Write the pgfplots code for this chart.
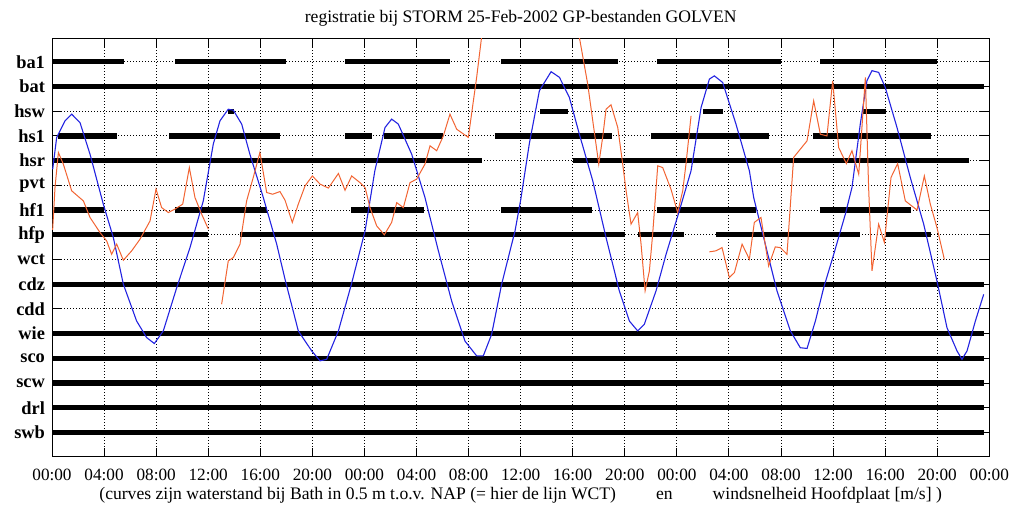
\documentclass[border=0pt]{standalone}
\usepackage{pgfplots}
\pgfplotsset{compat=1.18}
\usepackage{fontspec}
\setmainfont{Liberation Serif}
\definecolor{tideblue}{RGB}{35,35,225}
\definecolor{windorange}{RGB}{242,100,50}
\begin{document}
\begin{tikzpicture}
\useasboundingbox (-26pt,-28.65pt) rectangle (486pt,228.35pt);
\begin{axis}[
  at={(234.325pt,104.6pt)}, anchor=center,
  scale only axis, width=468.65pt, height=209.2pt,
  xmin=0, xmax=72, ymin=0.05, ymax=16.98, y dir=reverse,
  axis line style={line width=0.5pt},
  tick align=inside, xtick pos=both, ytick pos=both,
  major tick length=4.5pt,
  tick style={black, line width=0.5pt},
  xtick={0,4,...,72},
  xticklabels={00:00,04:00,08:00,12:00,16:00,20:00,00:00,04:00,08:00,12:00,16:00,20:00,00:00,04:00,08:00,12:00,16:00,20:00,00:00},
  ytick={1,...,16},
  yticklabels={ba1,bat,hsw,hs1,hsr,pvt,hf1,hfp,wct,cdz,cdd,wie,sco,scw,drl,swb},
  grid=major,
  major grid style={black, line width=0.5pt, dash pattern=on 0.5pt off 1pt},
  xticklabel style={font=\fontsize{8.6}{10}\selectfont, yshift=-2.5pt},
  yticklabel style={font=\fontsize{9.2}{10}\selectfont\bfseries},
  every axis title shift=0pt,
  title={registratie bij STORM 25-Feb-2002 GP-bestanden GOLVEN},
  title style={font=\fontsize{8.8}{10}\selectfont, at={(axis description cs:0.5,1)}, anchor=center, yshift=10.15pt},
  xlabel={(curves zijn waterstand bij Bath in 0.5 m t.o.v. NAP (= hier de lijn WCT)\hspace*{20pt}en\hspace*{20pt}windsnelheid Hoofdplaat [m/s] )},
  xlabel style={font=\fontsize{8.8}{10}\selectfont, at={(axis description cs:0.5,0)}, anchor=center, yshift=-19.4pt},
  unbounded coords=jump,
]
% bars
\pgfplotsset{bar/.style={black, line width=2.7pt, line cap=butt, forget plot}}
\addplot[bar] coordinates {(0,1) (5.5,1) (7,nan) (9.45,1) (18.0,1) (20,nan) (22.5,1) (30.6,1) (32,nan) (34.5,1) (43.5,1) (45,nan) (46.5,1) (56.0,1) (57,nan) (59.0,1) (68.0,1)};
\addplot[bar] coordinates {(0,2) (71.57,2)};
\addplot[bar] coordinates {(13.55,3) (13.98,3) (20,nan) (37.5,3) (39.6,3) (45,nan) (50.0,3) (51.55,3) (57,nan) (62.3,3) (64.05,3)};
\addplot[bar] coordinates {(0.45,4) (5.0,4) (7,nan) (9.0,4) (17.5,4) (20,nan) (22.5,4) (24.58,4) (25,nan) (25.5,4) (30.05,4) (32,nan) (34.0,4) (43.0,4) (45,nan) (46.0,4) (55.08,4) (57,nan) (58.45,4) (67.52,4)};
\addplot[bar] coordinates {(0.08,5) (33.05,5) (35,nan) (40.0,5) (70.47,5)};
\addplot[bar] coordinates {(0.12,7) (3.97,7) (7,nan) (9.45,7) (16.5,7) (20,nan) (22.98,7) (28.55,7) (32,nan) (34.5,7) (41.5,7) (45,nan) (46.5,7) (54.05,7) (57,nan) (58.98,7) (65.98,7)};
\addplot[bar] coordinates {(0.04,8) (12.02,8) (13,nan) (14.46,8) (44.03,8) (44.5,nan) (45.0,8) (48.55,8) (50,nan) (51.0,8) (62.03,8) (63,nan) (64.05,8) (67.5,8)};
\addplot[bar] coordinates {(0,10) (71.57,10)};
\addplot[bar] coordinates {(0,12) (71.57,12)};
\addplot[bar] coordinates {(0,13) (71.57,13)};
\addplot[bar] coordinates {(0,14) (71.57,14)};
\addplot[bar] coordinates {(0,15) (71.57,15)};
\addplot[bar] coordinates {(0,16) (71.57,16)};
% water level (row units)
\addplot[tideblue, line width=0.55pt] coordinates {
(0.05,5.35) (0.36,4.06) (1.0,3.39) (1.51,3.12) (2.15,3.46) (2.92,4.74) (3.94,6.76) (4.71,8.11) (5.48,10.0) (6.5,11.49) (7.27,12.16) (7.86,12.4) (8.55,11.89) (9.58,10.14) (10.6,8.52) (11.62,6.63) (12.39,4.33) (12.9,3.39) (13.54,2.92) (13.93,2.96) (14.57,3.52) (15.2,4.74) (16.23,6.49) (17.26,8.38) (17.9,9.8) (18.92,11.89) (19.95,12.7) (20.59,13.1) (21.1,13.04) (22.0,11.89) (23.0,10.0) (24.05,7.84) (24.8,5.41) (25.58,3.66) (26.09,3.32) (26.6,3.52) (27.63,4.74) (28.65,6.49) (29.68,8.65) (30.7,10.68) (31.72,12.3) (32.62,12.9) (33.13,12.9) (33.77,12.03) (34.54,10.0) (35.57,7.84) (36.0,6.6) (36.67,4.3) (37.44,2.17) (38.34,1.4) (38.98,1.63) (39.74,2.44) (40.51,3.93) (41.54,5.82) (42.56,8.11) (43.58,10.27) (44.35,11.49) (44.99,11.89) (45.5,11.62) (46.4,10.27) (47.17,8.79) (48.19,7.03) (49.09,5.41) (49.86,2.85) (50.5,1.7) (50.88,1.57) (51.52,1.84) (52.54,3.52) (53.57,5.41) (53.9,6.49) (54.92,8.65) (55.69,10.27) (56.72,11.89) (57.48,12.57) (58.0,12.6) (58.64,11.49) (59.28,10.14) (60.05,8.79) (60.94,7.17) (61.45,6.09) (62.09,3.52) (62.6,1.77) (62.99,1.36) (63.5,1.43) (64.01,2.04) (64.91,3.66) (65.93,5.68) (66.96,7.57) (67.98,9.87) (68.75,11.76) (69.52,12.7) (69.9,13.04) (70.29,12.7) (70.93,11.49) (71.57,10.41)};
% wind speed (row units)
\addplot[windorange, line width=0.5pt] coordinates {
(0.05,7.8) (0.23,6.09) (0.49,4.67) (0.87,5.14) (1.51,6.22) (2.41,6.63) (2.92,7.3) (3.69,7.91) (4.2,8.25) (4.58,8.79) (4.97,8.38) (5.48,9.03) (6.12,8.65) (6.76,8.18) (7.53,7.44) (7.99,6.15) (8.42,6.9) (8.94,7.1) (9.45,6.96) (10.04,6.76) (10.55,5.28) (10.98,6.49) (11.5,7.17) (12.01,7.77)
(12.5,nan)
(13.03,10.81) (13.54,9.06) (13.93,8.92) (14.44,8.38) (14.95,6.63) (15.46,5.68) (15.97,4.67) (16.49,6.29) (16.95,6.36) (17.51,6.25) (17.9,6.6) (18.46,7.5) (18.92,6.76) (19.44,6.02) (20.0,5.62) (20.59,5.95) (21.23,6.11) (22.0,5.52) (22.51,6.2) (23.02,5.62) (23.66,5.89) (24.05,6.09) (24.43,6.9) (24.94,7.64) (25.53,8.0) (26.09,7.5) (26.48,6.7) (26.99,6.9) (27.5,5.89) (28.01,5.75) (28.65,5.14) (29.04,4.4) (29.55,4.6) (30.06,4.0) (30.57,3.12) (31.09,3.73) (31.98,4.06) (32.62,1.63) (33.0,0.0) (33.4,-1.7) (40.0,-1.5) (40.51,0.01) (41.15,1.9) (41.54,3.39) (42.0,5.14) (42.3,4.06) (42.56,2.92) (42.94,2.74) (43.46,3.66) (43.84,5.14) (44.1,6.22) (44.48,7.57) (44.99,7.1) (45.25,8.38) (45.56,10.27) (45.89,9.46) (46.14,7.98) (46.53,5.21) (46.91,5.28) (47.55,6.16) (48.06,7.1) (48.45,6.22) (48.7,5.14) (49.09,3.19)
(49.8,nan)
(50.5,8.69) (51.0,8.65) (51.47,8.52) (52.03,9.73) (52.42,9.53) (53.01,8.38) (53.57,8.99) (53.95,7.5) (54.46,7.3) (55.05,9.26) (55.56,8.49) (55.95,8.52) (56.46,8.79) (56.97,4.87) (58.0,4.2) (58.51,2.58) (59.02,3.93) (59.53,4.0) (59.97,1.77) (60.43,4.47) (61.02,5.12) (61.45,4.6) (61.97,5.55) (62.48,1.63) (62.73,6.09) (62.99,9.46) (63.5,7.57) (63.94,8.31) (64.45,5.68) (64.96,5.12) (65.55,6.63) (66.45,7.0) (67.01,5.62) (67.47,6.76) (67.98,7.71) (68.55,9.0)};
\end{axis}
\end{tikzpicture}
\end{document}
